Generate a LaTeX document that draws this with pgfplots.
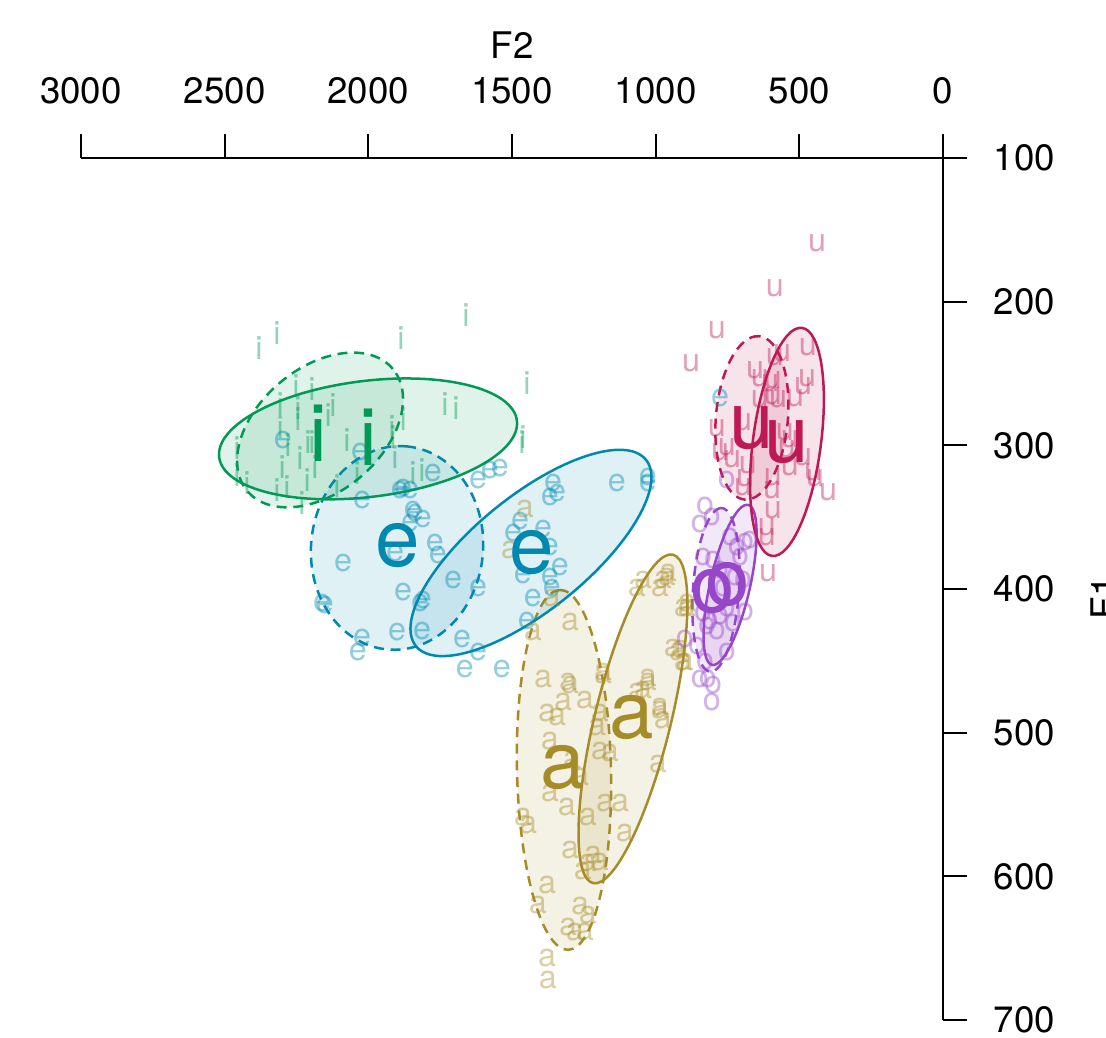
\documentclass[border=0pt]{standalone}
\usepackage{fontspec}
\setmainfont{TeX Gyre Heros}
\usepackage{pgfplots}
\pgfplotsset{compat=1.18}
\definecolor{icol}{RGB}{0,153,85}
\definecolor{ecol}{RGB}{0,137,176}
\definecolor{acol}{RGB}{166,140,40}
\definecolor{ocol}{RGB}{150,70,200}
\definecolor{ucol}{RGB}{190,25,85}
\pgfplotsset{
  pts/.style={only marks, mark=text, text mark={#1}, text mark as node=true,
    text mark style={font=\fontsize{9.7}{10}\selectfont, inner sep=0pt, anchor=center, text opacity=0.42}},
  mean/.style={only marks, mark=text, text mark={#1}, text mark as node=true,
    text mark style={font=\fontsize{24}{24}\selectfont, inner sep=0pt, anchor=center}},
}
\tikzset{
  ell/.style={line width=0.75pt, draw=#1, fill=#1, fill opacity=0.12},
  dsh/.style={dash pattern=on 3pt off 2pt},
}
\begin{document}
\begin{tikzpicture}
\begin{axis}[
  at={(0,0)}, anchor=south west, scale only axis,
  width=258.6pt, height=258.6pt,
  xmin=0, xmax=3000, ymin=100, ymax=700,
  x dir=reverse, y dir=reverse,
  axis x line*=top, axis y line*=right,
  x axis line style={-}, y axis line style={-},
  axis line style={line width=0.6pt},
  xtick={0,500,...,3000}, ytick={100,200,...,700},
  tick align=outside, major tick length=7.2pt,
  every tick/.style={black, line width=0.6pt},
  /pgf/number format/1000 sep={}, /pgf/number format/assume math mode=true,
  ticklabel style={font=\fontsize{11}{13}\selectfont},
  xticklabel style={yshift=5.5pt},
  yticklabel style={xshift=4.5pt},
  clip=false,
]
% data points
\addplot[pts={i}, icol] coordinates {
(2381,232) (2318,222) (1886,225) (1660,209) (1448,257) (1733,271) (1695,274)
(1879,282) (1918,287) (2074,296) (2123,272) (2140,279) (2196,261) (2252,259)
(2307,271) (2245,274) (2245,282) (2307,287) (2210,298) (2196,298) (2186,315)
(2238,309) (2280,300) (2300,315) (2457,302) (2422,326) (2318,331) (2283,329)
(2213,324) (2231,340) (1907,308) (1914,294) (2039,319) (1845,319) (1813,317)
(1465,298) (1462,294) (2457,321) (2109,328)
};
\addplot[pts={e}, ecol] coordinates {
(2297,296) (2029,305) (1775,319) (1890,331) (1855,331) (2022,338) (1838,347)
(1577,317) (1542,316) (1618,324) (1879,330) (1845,345) (1810,351) (1855,354)
(1907,375) (1768,368) (1758,376) (2088,382) (1705,394) (1618,399) (1879,402)
(1820,410) (1810,408) (2161,410) (2151,411) (2022,434) (2036,444) (1900,430)
(1813,429) (1674,435) (1618,444) (1664,456) (1535,456) (1357,326) (1343,333)
(1368,336) (1472,353) (1496,361) (1392,358) (1368,371) (1333,385) (1462,390)
(1368,392) (1361,399) (1427,406) (1448,422) (1135,326) (1027,322) (1027,326)
(776,267)
};
\addplot[pts={a}, acol] coordinates {
(1455,344) (1507,373) (1361,406) (1298,423) (1427,430) (1044,394) (1065,399)
(975,394) (957,389) (1392,463) (1305,465) (1183,458) (1027,462) (940,441)
(1298,467) (1246,477) (1322,479) (1378,486) (1343,489) (1183,460) (1194,486)
(1204,496) (1368,506) (1291,519) (1194,513) (1159,514) (1065,472) (1027,465)
(1044,470) (985,482) (975,491) (992,522) (985,399) (905,413) (922,444)
(905,451) (1263,531) (1368,542) (1309,552) (1462,559) (1444,564) (1236,559)
(1176,549) (1124,549) (1107,570) (1298,582) (1218,585) (1236,591) (1194,590)
(1253,596) (1378,606) (1410,620) (1263,621) (1236,627) (1305,635) (1281,639)
(1246,639) (1378,657) (1375,672) (961,392) (891,410) (891,413) (915,442)
(898,451) (985,484)
};
\addplot[pts={o}, ocol] coordinates {
(828,342) (846,355) (804,350) (835,378) (800,380) (741,364) (717,371)
(689,367) (672,366) (706,378) (776,387) (724,392) (696,394) (766,399)
(752,413) (835,417) (811,422) (776,419) (731,424) (689,416) (787,429)
(821,426) (898,435) (856,440) (752,444) (828,451) (818,463) (846,463)
(800,467) (804,479) (752,324)
};
\addplot[pts={u}, ucol] coordinates {
(438,159) (585,191) (787,220) (877,243) (470,232) (560,236) (585,239)
(654,248) (637,253) (592,255) (602,257) (473,253) (487,259) (515,267)
(637,268) (592,266) (574,268) (787,288) (752,301) (776,305) (734,310)
(679,314) (696,284) (550,291) (533,296) (543,303) (487,308) (452,319)
(592,322) (533,315) (689,323) (696,329) (595,331) (592,345) (613,357)
(613,364) (609,389) (400,333) (445,323)
};
% ellipses (dashed group)
\draw[ell=icol, dsh, rotate around={40:(axis cs:2168,289.3)}] (axis cs:2168,289.3) ellipse [x radius=28.5pt, y radius=18.6pt];
\draw[ell=ecol, dsh, rotate around={84:(axis cs:1900,371.4)}] (axis cs:1900,371.4) ellipse [x radius=30.6pt, y radius=25.8pt];
\draw[ell=acol, dsh, rotate around={91.3:(axis cs:1319,525.9)}] (axis cs:1319,525.9) ellipse [x radius=54pt, y radius=14.1pt];
\draw[ell=ocol, dsh, rotate around={86:(axis cs:790,400.6)}] (axis cs:790,400.6) ellipse [x radius=24.6pt, y radius=6.9pt];
\draw[ell=ucol, dsh, rotate around={85:(axis cs:665,280.9)}] (axis cs:665,280.9) ellipse [x radius=24.6pt, y radius=10.8pt];
% ellipses (solid group)
\draw[ell=icol, rotate around={7:(axis cs:2001,295.5)}] (axis cs:2001,295.5) ellipse [x radius=45pt, y radius=17.4pt];
\draw[ell=ecol, rotate around={39:(axis cs:1434,374.9)}] (axis cs:1434,374.9) ellipse [x radius=44.4pt, y radius=17.1pt];
\draw[ell=acol, rotate around={76.3:(axis cs:1079,490.4)}] (axis cs:1079,490.4) ellipse [x radius=50.7pt, y radius=11.4pt];
\draw[ell=ocol, rotate around={77.3:(axis cs:741,397.1)}] (axis cs:741,397.1) ellipse [x radius=24.6pt, y radius=6pt];
\draw[ell=ucol, rotate around={82.5:(axis cs:543,297.6)}] (axis cs:543,297.6) ellipse [x radius=34.5pt, y radius=10.2pt];
% means
\addplot[mean={i}, icol] coordinates {(2175,291.4) (2001,294.2)};
\addplot[mean={e}, ecol] coordinates {(1897,370) (1430,374.9)};
\addplot[mean={a}, acol] coordinates {(1322,524.5) (1082,489.7)};
\addplot[mean={o}, ocol] coordinates {(800,402) (748,397.1)};
\addplot[mean={u}, ucol] coordinates {(665,287.9) (543,297.6)};
\end{axis}
\node[font=\fontsize{11}{13}\selectfont, anchor=center] at (129.3pt,292.35pt) {F2};
\node[font=\fontsize{11}{13}\selectfont, anchor=center, rotate=90] at (306.9pt,126.6pt) {F1};
\pgfresetboundingbox
\path (-24.3pt,-5.1pt) rectangle (307.5pt,306pt);
\end{tikzpicture}
\end{document}
